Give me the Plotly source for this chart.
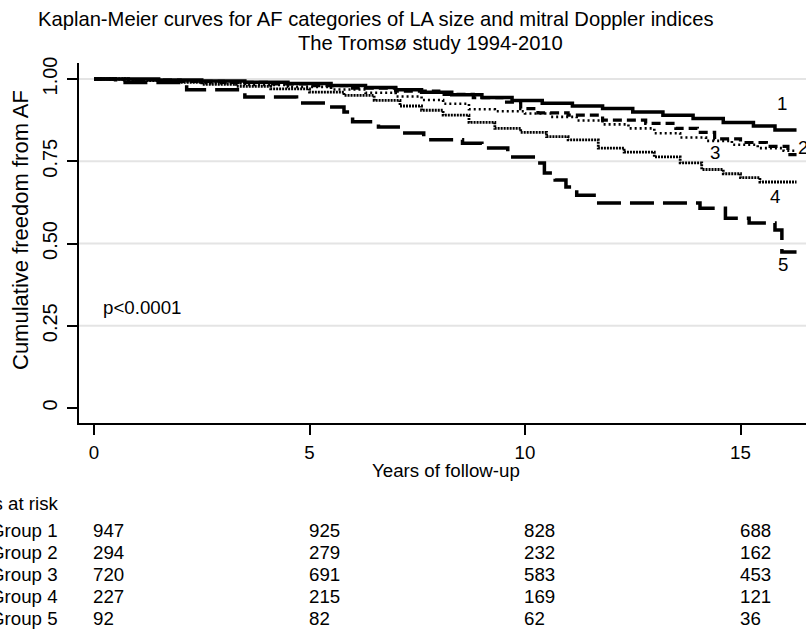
import plotly.graph_objects as go

# ---------------- data ----------------
years_ticks = [0, 5, 10, 15]
end_time = 16.3

g1_t = [0, 1.5, 2.5, 3.5, 4.5, 5.5, 6.3, 7.0, 7.6, 8.3, 9.0, 9.7, 10.4, 11.1, 11.8, 12.5, 13.2, 13.9, 14.6, 15.3, 15.8]
g1_s = [1.0, 0.997, 0.994, 0.99, 0.986, 0.98, 0.974, 0.967, 0.96, 0.952, 0.944, 0.935, 0.926, 0.918, 0.91, 0.9, 0.89, 0.88, 0.868, 0.857, 0.845]

g2_t = [0, 0.8, 2.0, 3.0, 4.0, 5.0, 6.0, 7.0, 8.0, 8.8, 9.5, 9.9, 10.3, 11.0, 11.8, 12.8, 13.5, 14.0, 14.4, 15.0, 15.6, 16.1]
g2_s = [1.0, 0.997, 0.993, 0.99, 0.985, 0.98, 0.972, 0.963, 0.953, 0.943, 0.93, 0.91, 0.897, 0.89, 0.875, 0.865, 0.85, 0.838, 0.818, 0.807, 0.795, 0.77]

g3_t = [0, 0.7, 1.5, 2.5, 3.5, 4.5, 5.5, 6.3, 7.0, 7.6, 8.1, 8.7, 9.3, 10.0, 10.6, 11.2, 11.8, 12.4, 13.0, 13.6, 14.2, 14.8, 15.4, 16.0]
g3_s = [1.0, 0.996, 0.992, 0.987, 0.982, 0.976, 0.968, 0.958, 0.947, 0.936, 0.925, 0.908, 0.902, 0.895, 0.885, 0.874, 0.862, 0.85, 0.835, 0.822, 0.812, 0.8, 0.79, 0.782]

g4_t = [0, 0.8, 1.6, 2.5, 3.3, 4.1, 5.0, 5.8, 6.5, 7.1, 7.6, 8.1, 8.7, 9.3, 9.9, 10.5, 11.0, 11.7, 12.3, 13.0, 13.6, 14.1, 14.6, 15.0, 15.45]
g4_s = [1.0, 0.995, 0.99, 0.984, 0.978, 0.97, 0.96, 0.95, 0.935, 0.918, 0.905, 0.89, 0.868, 0.85, 0.838, 0.825, 0.815, 0.79, 0.778, 0.763, 0.745, 0.725, 0.712, 0.70, 0.687]

g5_t = [0, 0.5, 2.15, 3.5, 4.7, 5.45, 5.8, 6.0, 6.6, 7.15, 7.65, 8.55, 9.0, 9.6, 10.3, 10.45, 10.7, 10.95, 11.2, 11.65, 14.06, 14.65, 15.2, 15.8, 15.96]
g5_s = [1.0, 0.989, 0.967, 0.945, 0.927, 0.915, 0.90, 0.87, 0.854, 0.836, 0.815, 0.805, 0.79, 0.763, 0.745, 0.714, 0.693, 0.672, 0.647, 0.623, 0.607, 0.577, 0.562, 0.541, 0.474]

group_names = ["Group 1", "Group 2", "Group 3", "Group 4", "Group 5"]
risk_g1 = [947, 925, 828, 688]
risk_g2 = [294, 279, 232, 162]
risk_g3 = [720, 691, 583, 453]
risk_g4 = [227, 215, 169, 121]
risk_g5 = [92, 82, 62, 36]

curve_labels = ["1", "2", "3", "4", "5"]
label_x = [15.96, 16.45, 14.41, 15.8, 15.99]
label_y = [0.927, 0.793, 0.778, 0.644, 0.435]

# ---------------- figure ----------------
FONT = "Liberation Sans, Arial, sans-serif"
TXT = 18.7

fig = go.Figure()

series = [
    (g1_t, g1_s, dict(width=3.5, dash="solid")),
    (g2_t, g2_s, dict(width=3.2, dash="9px,5px")),
    (g3_t, g3_s, dict(width=2.6, dash="2px,3px")),
    (g4_t, g4_s, dict(width=2.8, dash="2px,1px")),
    (g5_t, g5_s, dict(width=3.5, dash="24px,9px")),
]
for t, s, ls in series:
    fig.add_trace(go.Scatter(
        x=t + [end_time], y=s + [s[-1]], mode="lines",
        line=dict(color="black", shape="hv", **ls),
        showlegend=False, hoverinfo="skip"))

# gridlines (no line at 0)
for gy in [0.25, 0.5, 0.75, 1.0]:
    fig.add_shape(type="line", xref="paper", x0=0, x1=1, yref="y", y0=gy, y1=gy,
                  line=dict(color="#e4e4e4", width=2), layer="below")

ann = []
ann.append(dict(text="Kaplan-Meier curves for AF categories of LA size and mitral Doppler indices",
                xref="paper", yref="paper", x=(375 - 79) / 727, y=(423 - 19) / 360,
                xanchor="center", yanchor="middle", showarrow=False,
                font=dict(family=FONT, size=20.2, color="black")))
ann.append(dict(text="The Tromsø study 1994-2010",
                xref="paper", yref="paper", x=(430 - 79) / 727, y=(423 - 43) / 360,
                xanchor="center", yanchor="middle", showarrow=False,
                font=dict(family=FONT, size=20.2, color="black")))
ann.append(dict(text="Cumulative freedom from AF", xref="paper", yref="paper",
                x=(20 - 79) / 727, y=(423 - 230) / 360, textangle=-90,
                xanchor="center", yanchor="middle", showarrow=False,
                font=dict(family=FONT, size=22, color="black")))
ann.append(dict(text="Years of follow-up", xref="paper", yref="paper",
                x=(446 - 79) / 727, y=(423 - 470) / 360,
                xanchor="center", yanchor="middle", showarrow=False,
                font=dict(family=FONT, size=TXT, color="black")))
ann.append(dict(text="p<0.0001", xref="x", yref="y", x=0.16, y=0.307,
                xanchor="left", yanchor="middle", showarrow=False,
                font=dict(family=FONT, size=TXT, color="black")))
for lab, lx, ly in zip(curve_labels, label_x, label_y):
    ann.append(dict(text=lab, xref="x", yref="y", x=lx, y=ly,
                    xanchor="center", yanchor="middle", showarrow=False,
                    font=dict(family=FONT, size=TXT, color="black")))
ann.append(dict(text="Numbers at risk", xref="paper", yref="paper",
                x=(60 - 79) / 727, y=(423 - 503) / 360,
                xanchor="right", yanchor="middle", showarrow=False,
                font=dict(family=FONT, size=TXT, color="black")))
row_py = [530, 552, 574, 596, 618]
for name, row, py in zip(group_names, [risk_g1, risk_g2, risk_g3, risk_g4, risk_g5], row_py):
    ann.append(dict(text=name, xref="paper", yref="paper",
                    x=(60 - 79) / 727, y=(423 - py) / 360,
                    xanchor="right", yanchor="middle", showarrow=False,
                    font=dict(family=FONT, size=TXT, color="black")))
    for tx, n in zip(years_ticks, row):
        ann.append(dict(text=str(n), xref="x", yref="paper", x=tx, y=(423 - py) / 360,
                        xanchor="left", yanchor="middle", showarrow=False, xshift=-3,
                        font=dict(family=FONT, size=TXT, color="black")))

fig.update_layout(
    width=806, height=632,
    margin=dict(l=79, r=0, t=63, b=209),
    paper_bgcolor="white", plot_bgcolor="white",
    annotations=ann,
    xaxis=dict(range=[(79 - 94) / 43.1, (806 - 94) / 43.1], tickvals=years_ticks,
               ticks="outside", ticklen=10, tickwidth=1.5, tickcolor="black",
               showline=True, linecolor="black", linewidth=1.5,
               showgrid=False, zeroline=False, ticklabelstandoff=2,
               tickfont=dict(family=FONT, size=TXT, color="black")),
    yaxis=dict(range=[-(423 - 408) / 329, 1 + (79 - 63) / 329],
               tickvals=[0, 0.25, 0.5, 0.75, 1.0],
               ticktext=["0", "0.25", "0.50", "0.75", "1.00"], tickangle=-90,
               ticks="outside", ticklen=10, tickwidth=1.5, tickcolor="black",
               showline=True, linecolor="black", linewidth=1.5,
               showgrid=False, zeroline=False, ticklabelstandoff=2,
               tickfont=dict(family=FONT, size=20, color="black")),
)

fig.write_html("out.html", config={"displayModeBar": False},
               post_script="document.body.style.margin='0px';document.body.style.overflow='hidden';")
